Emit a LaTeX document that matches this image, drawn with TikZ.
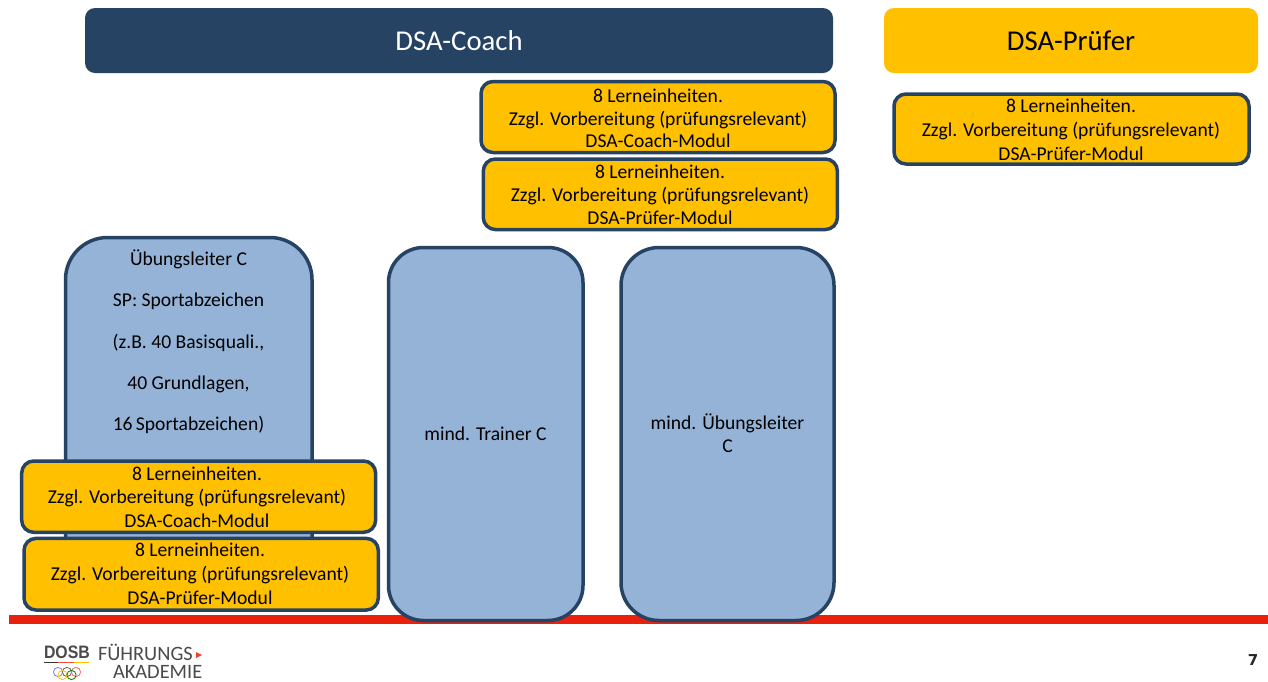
\documentclass[tikz,border=0pt]{standalone}
\usepackage{fontspec}
\setmainfont{Carlito}
\newfontfamily\pagefont{DejaVu Sans}
\newfontfamily\logofont{Liberation Sans}
\definecolor{navy}{HTML}{264364}
\definecolor{gold}{HTML}{FFC000}
\definecolor{skyb}{HTML}{95B3D7}
\definecolor{redbar}{HTML}{E8200C}
\definecolor{logogrey}{HTML}{4A4A4A}
\newcommand{\boxat}[6]{% name, x1, y1, x2, y2, style
  \node[#6, minimum width={(#4-#2)*1pt}, minimum height={(#5-#3)*1pt}, anchor=center] (#1) at ({(#2+#4)/2},{(#3+#5)/2}) {};}
\tikzset{
  x=1pt, y=-1pt,
  every node/.style={inner sep=0pt, outer sep=0pt},
  headbox/.style={rounded corners=10pt, draw=none, text=white},
  modulebox/.style={rounded corners=12pt, draw=navy, line width=3.5pt, fill=gold},
  tallbox/.style={draw=navy, line width=3.5pt, fill=skyb},
  bodytext/.style={align=center, text=black, font=\fontsize{19.6}{#1}\selectfont},
  bodytext/.default=23.5
}
\newcommand{\modtext}[1]{8 Lerneinheiten.\\Zzgl. Vorbereitung (prüfungsrelevant)\\DSA-#1-Modul}
\begin{document}
\begin{tikzpicture}
\useasboundingbox (0,0) rectangle (1268,681);
\fill[white] (0,0) rectangle (1268,681);

\fill[redbar] (9,615) rectangle (1268,624);

\boxat{coach}{85}{8}{833}{73}{headbox, fill=navy}
\node[text=white, font=\fontsize{28.7}{32}\selectfont] (coachtext) at (coach.center) {DSA-Coach};
\boxat{pruefer}{884}{8}{1258}{73}{headbox, fill=gold}
\node[text=black, font=\fontsize{28.7}{32}\selectfont] (pruefertext) at (pruefer.center) {DSA-Prüfer};

\boxat{ul}{65.5}{237.5}{312}{610}{tallbox, rounded corners=42pt}
\node[bodytext=41.2, anchor=north] (ultext) at (188.5,250) {Übungsleiter C\\SP: Sportabzeichen\\(z.B. 40 Basisquali.,\\40 Grundlagen,\\16\,Sportabzeichen)};
\boxat{tc}{388.5}{247.5}{583}{620.5}{tallbox, rounded corners=35pt}
\node[bodytext] (tctext) at (485.5,434) {mind. Trainer C};
\boxat{ulc}{621}{247.5}{834}{620.5}{tallbox, rounded corners=38pt}
\node[bodytext=23] (ulctext) at (727.5,433) {mind. Übungsleiter\\C};

\boxat{m1}{481}{81.5}{835}{152.5}{modulebox}
\node[bodytext=22.5] (m1t) at (658,118.5) {\modtext{Coach}};
\boxat{m2}{483.3}{159}{837.4}{229.5}{modulebox}
\node[bodytext=23] (m2t) at (660,195) {\modtext{Prüfer}};
\boxat{m3}{894}{94}{1249}{164}{modulebox}
\node[bodytext=24] (m3t) at (1071,130) {\modtext{Prüfer}};
\boxat{m4}{21.7}{461}{375.6}{532.3}{modulebox}
\node[bodytext=23.5] (m4t) at (197,497) {\modtext{Coach}};
\boxat{m5}{24}{538.4}{378.3}{610}{modulebox}
\node[bodytext=24] (m5t) at (200,574) {\modtext{Prüfer}};

% logo
\node[text=logogrey, font=\logofont\bfseries\fontsize{18}{18}\selectfont, anchor=west, xscale=.88] (dosb) at (44,652) {DOSB};
\fill[black!80] (44,661.5) rectangle (58,663);
\fill[redbar!80] (58,661.5) rectangle (74,663);
\fill[gold] (74,661.5) rectangle (89,663);
\foreach \cx/\cy/\col in {58/672/blue!50, 67/672/black!60, 76/672/red!60, 62.5/675/gold, 71.5/675/green!50!black}
  \draw[\col, line width=.8pt] (\cx,\cy) circle (4.6);
\node[text=logogrey, font=\fontsize{20.4}{20}\selectfont, anchor=west] (fuehr) at (98,652) {FÜHRUNGS};
\fill[redbar!85] (196,652) -- (202,655) -- (196,658) -- cycle;
\node[text=logogrey, font=\fontsize{20.4}{20}\selectfont, anchor=west] (akad) at (113,672) {AKADEMIE};

\node[font=\pagefont\bfseries\fontsize{15}{15}\selectfont, text=black!85] (pageno) at (1253,660) {7};
\end{tikzpicture}
\end{document}
